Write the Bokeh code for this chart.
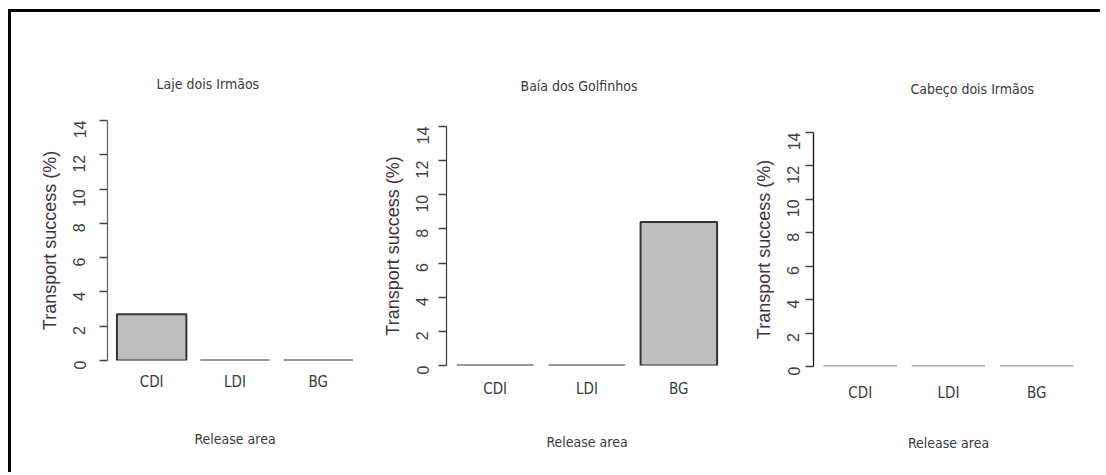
import math

from bokeh.embed import file_html
from bokeh.layouts import row
from bokeh.models import FactorRange, FixedTicker, Range1d
from bokeh.plotting import figure
from bokeh.resources import INLINE

# Release areas (x categories) and transport success (%) per destination site
areas = ["CDI", "LDI", "BG"]
site_names = ["Laje dois Irmãos", "Baía dos Golfinhos", "Cabeço dois Irmãos"]
laje_values = [2.7, 0.0, 0.0]
baia_values = [0.0, 0.0, 8.4]
cabeco_values = [0.0, 0.0, 0.0]
y_ticks = [0, 2, 4, 6, 8, 10, 12, 14]

NARROW = "DejaVu Sans Condensed"
SANS = "Liberation Sans"


def panel(title, values, frame_w, frame_h, left, right, top, bottom,
          title_offset, title_standoff, xlab_standoff, xaxis_standoff,
          ylab_standoff, bar_line, bar_line_w, axis_color):
    p = figure(
        x_range=FactorRange(factors=areas, range_padding=0.02),
        y_range=Range1d(0, 14),
        frame_width=frame_w, frame_height=frame_h,
        min_border_left=left, min_border_right=right,
        min_border_top=top, min_border_bottom=bottom,
        frame_align=False,
        toolbar_location=None, output_backend="svg",
        title=title,
    )
    p.vbar(x=areas, top=values, width=1 / 1.2, bottom=0,
           fill_color="#bebebe", line_color=bar_line, line_width=bar_line_w)

    p.title.text_font = NARROW
    p.title.text_font_size = "14px"
    p.title.text_font_style = "normal"
    p.title.text_color = "#3a3a3a"
    p.title.align = "left"
    p.title.offset = title_offset
    p.title.standoff = title_standoff

    p.grid.visible = False
    p.outline_line_color = None
    p.background_fill_color = "white"
    p.border_fill_color = "white"

    xa = p.xaxis[0]
    xa.axis_line_color = None
    xa.major_tick_line_color = None
    xa.minor_tick_line_color = None
    xa.major_tick_out = 0
    xa.major_tick_in = 0
    xa.major_label_standoff = xlab_standoff
    xa.major_label_text_font = NARROW
    xa.major_label_text_font_size = "15px"
    xa.major_label_text_color = "#3a3a3a"
    xa.axis_label = "Release area"
    xa.axis_label_text_font = NARROW
    xa.axis_label_text_font_size = "14px"
    xa.axis_label_text_font_style = "normal"
    xa.axis_label_text_color = "#3a3a3a"
    xa.axis_label_standoff = xaxis_standoff

    ya = p.yaxis[0]
    ya.ticker = FixedTicker(ticks=y_ticks)
    ya.axis_line_color = axis_color
    ya.axis_line_width = 1.3
    ya.major_tick_line_color = "#444444"
    ya.major_tick_line_width = 1.3
    ya.major_tick_out = 8
    ya.major_tick_in = 0
    ya.minor_tick_line_color = None
    ya.major_label_orientation = math.pi / 2
    ya.major_label_standoff = ylab_standoff
    ya.major_label_text_font = SANS
    ya.major_label_text_font_size = "16px"
    ya.major_label_text_color = "#404040"
    ya.axis_label = "Transport success (%)"
    ya.axis_label_text_font = SANS
    ya.axis_label_text_font_size = "18px"
    ya.axis_label_text_font_style = "normal"
    ya.axis_label_text_color = "#3d333d"
    ya.axis_label_standoff = 5
    return p


p1 = panel(site_names[0], laje_values, 255, 240, 96, 13, 108, 112,
           49, 57, 12, 37, 20, "#333333", 2.0, "#666666")
p2 = panel(site_names[1], baia_values, 281, 239, 71, 18, 114, 107,
           74, 66, 14, 33, 16, "#333333", 2.0, "#444444")
p3 = panel(site_names[2], cabeco_values, 270, 234, 68, 17, 120, 106,
           97, 72, 17, 30, 12, "#9a9a9a", 2.6, "#111111")

layout = row(p1, p2, p3, styles={
    "margin-left": "8px", "margin-top": "9px",
    "border-left": "3px solid #000", "border-top": "3px solid #000",
})

open("out.html", "w").write(file_html(layout, INLINE))
